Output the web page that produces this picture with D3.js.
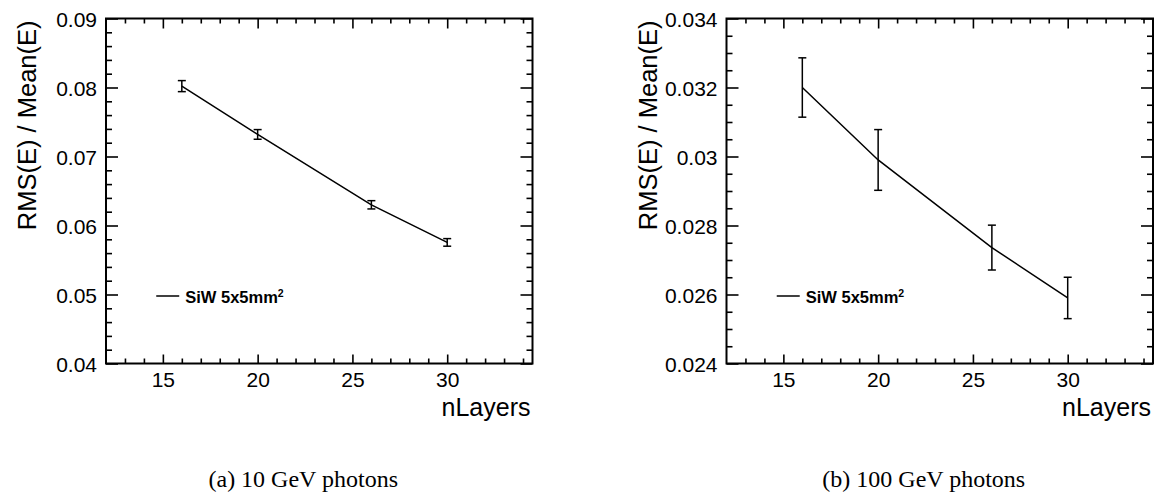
<!DOCTYPE html>
<html>
<head>
<meta charset="utf-8">
<script src="https://cdn.jsdelivr.net/npm/d3@7"></script>
<style>
  html, body { margin: 0; padding: 0; background: #fff; }
  svg { display: block; }
</style>
</head>
<body>
<svg id="fig" width="1157" height="492"></svg>
<script>
// Number of sampling layers
const nLayers = [16, 20, 26, 30];

// Energy resolution RMS(E)/Mean(E), 10 GeV photons
const res10 = [0.0802, 0.0732, 0.0630, 0.05755];
const err10 = [0.0008, 0.0007, 0.0006, 0.00055];

// Energy resolution RMS(E)/Mean(E), 100 GeV photons
const res100 = [0.0320, 0.0299, 0.02736, 0.0259];
const err100 = [0.00086, 0.00088, 0.00065, 0.0006];

// Axis ticks
const xMajor = [15, 20, 25, 30];
const yMajor10 = [0.04, 0.05, 0.06, 0.07, 0.08, 0.09];
const yMajor100 = [0.024, 0.026, 0.028, 0.03, 0.032, 0.034];

const legendLabel = "SiW 5x5mm";
const captions = ["(a) 10 GeV photons", "(b) 100 GeV photons"];

const svg = d3.select("#fig");
const sans = "'Liberation Sans', Arial, Helvetica, sans-serif";
const serif = "'Liberation Serif', 'Times New Roman', serif";

function drawPanel(opt) {
  const { left, right, top, bottom, yDomain, yMajor, yMinorStep, ys, es, yFmt, caption } = opt;
  const g = svg.append("g");

  const x = d3.scaleLinear().domain([12, 34.5]).range([left, right]);
  const y = d3.scaleLinear().domain(yDomain).range([bottom, top]);

  const xMinor = d3.range(13, 35, 1).filter(v => v % 5 !== 0);
  const yMinor = d3.range(yDomain[0], yDomain[1] + 1e-9, yMinorStep)
    .filter(v => !yMajor.some(m => Math.abs(m - v) < 1e-9));

  // bottom axis: inward ticks with labels
  g.append("g").attr("transform", `translate(0,${bottom})`)
    .call(d3.axisBottom(x).tickValues(xMajor).tickSize(-9).tickPadding(9).tickFormat(d3.format("d")));
  g.append("g").attr("transform", `translate(0,${bottom})`)
    .call(d3.axisBottom(x).tickValues(xMinor).tickSize(-5).tickFormat(""));
  // top axis: mirrored ticks
  g.append("g").attr("transform", `translate(0,${top})`)
    .call(d3.axisTop(x).tickValues(xMajor).tickSize(-10).tickFormat(""));
  g.append("g").attr("transform", `translate(0,${top})`)
    .call(d3.axisTop(x).tickValues(xMinor).tickSize(-5).tickFormat(""));
  // left axis
  const axL = g.append("g").attr("transform", `translate(${left},0)`)
    .call(d3.axisLeft(y).tickValues(yMajor).tickSize(-12).tickPadding(9).tickFormat(yFmt));
  g.append("g").attr("transform", `translate(${left},0)`)
    .call(d3.axisLeft(y).tickValues(yMinor).tickSize(-6).tickFormat(""));
  // right axis
  g.append("g").attr("transform", `translate(${right},0)`)
    .call(d3.axisRight(y).tickValues(yMajor).tickSize(-12).tickFormat(""));
  g.append("g").attr("transform", `translate(${right},0)`)
    .call(d3.axisRight(y).tickValues(yMinor).tickSize(-6).tickFormat(""));

  g.selectAll(".domain").remove();
  g.selectAll(".tick line").attr("stroke", "#000").attr("stroke-width", 1.6);
  g.selectAll(".tick text").attr("fill", "#000").attr("font-family", sans).attr("font-size", 21);
  axL.selectAll(".tick text").attr("dy", "0.36em");

  // frame
  g.append("rect")
    .attr("x", left).attr("y", top)
    .attr("width", right - left).attr("height", bottom - top)
    .attr("fill", "none").attr("stroke", "#000").attr("stroke-width", 2);

  // axis titles
  g.append("text")
    .attr("x", right - 2).attr("y", bottom + 52)
    .attr("text-anchor", "end")
    .attr("font-family", sans).attr("font-size", 25)
    .text("nLayers");
  g.append("text")
    .attr("transform", `translate(${left - 70},${top + 2}) rotate(-90)`)
    .attr("text-anchor", "end")
    .attr("font-family", sans).attr("font-size", 25.5)
    .text("RMS(E) / Mean(E)");

  // data
  const pts = nLayers.map((n, i) => ({ n, v: ys[i], e: es[i] }));
  g.append("path")
    .datum(pts)
    .attr("fill", "none").attr("stroke", "#000").attr("stroke-width", 1.5)
    .attr("d", d3.line().x(d => x(d.n)).y(d => y(d.v)));

  const eb = g.append("g").attr("stroke", "#000").attr("stroke-width", 1.5);
  pts.forEach(d => {
    const cx = x(d.n), y1 = y(d.v + d.e), y2 = y(d.v - d.e);
    eb.append("line").attr("x1", cx).attr("x2", cx).attr("y1", y1).attr("y2", y2);
    eb.append("line").attr("x1", cx - 4).attr("x2", cx + 4).attr("y1", y1).attr("y2", y1);
    eb.append("line").attr("x1", cx - 4).attr("x2", cx + 4).attr("y1", y2).attr("y2", y2);
  });

  // legend
  const lx = x(14.65), ly = 296;
  g.append("line")
    .attr("x1", lx).attr("x2", lx + 23).attr("y1", ly).attr("y2", ly)
    .attr("stroke", "#000").attr("stroke-width", 1.5);
  const lt = g.append("text")
    .attr("x", lx + 29).attr("y", ly + 7)
    .attr("font-family", sans).attr("font-size", 16.5).attr("font-weight", "bold")
    .text(legendLabel);
  lt.append("tspan").attr("baseline-shift", "super").attr("font-size", 10.5).text("2");

  // caption
  g.append("text")
    .attr("x", (left + right) / 2 - 16).attr("y", 487)
    .attr("text-anchor", "middle")
    .attr("font-family", serif).attr("font-size", 24)
    .text(caption);
}

drawPanel({
  left: 106, right: 532.5, top: 18.5, bottom: 363.5,
  yDomain: [0.04, 0.09], yMajor: yMajor10, yMinorStep: 0.002,
  ys: res10, es: err10, yFmt: d3.format(".2f"), caption: captions[0]
});
drawPanel({
  left: 726.5, right: 1153, top: 18.5, bottom: 363.5,
  yDomain: [0.024, 0.034], yMajor: yMajor100, yMinorStep: 0.0005,
  ys: res100, es: err100, yFmt: d => d3.format(".3~f")(d), caption: captions[1]
});
</script>
</body>
</html>
